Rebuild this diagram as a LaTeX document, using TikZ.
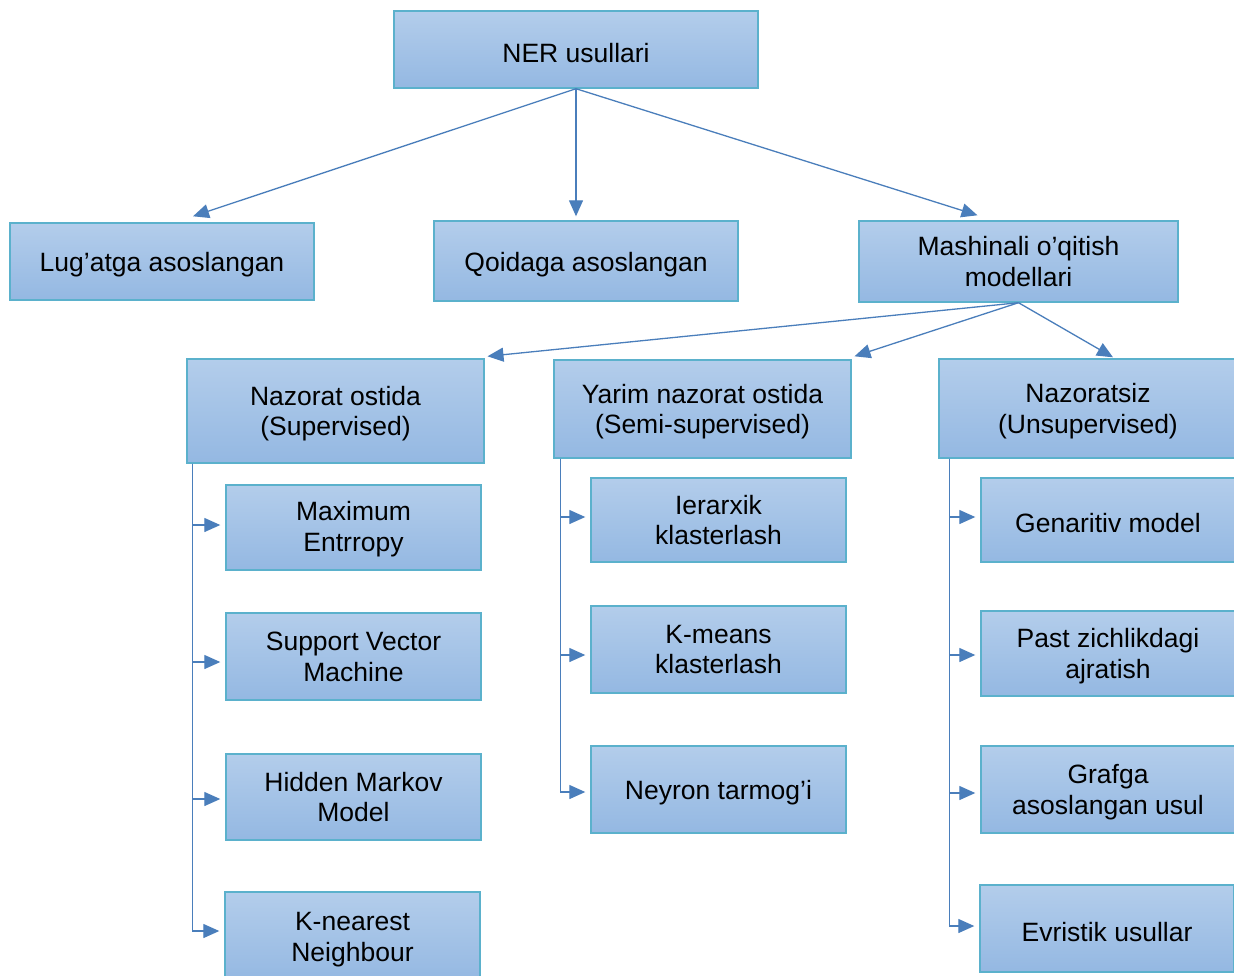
\documentclass[tikz,border=0pt]{standalone}
\usepackage{fontspec}
\setmainfont{Liberation Sans}
\usetikzlibrary{arrows.meta}
\definecolor{boxtop}{HTML}{B3CDEB}
\definecolor{boxbot}{HTML}{94B8E2}
\definecolor{boxline}{HTML}{5BB1CC}
\definecolor{arrcol}{HTML}{4A7EBB}
\begin{document}
\begin{tikzpicture}[x=1pt,y=-1pt,
  box/.style={draw=boxline,line width=1.4pt,top color=boxtop,bottom color=boxbot,
    inner sep=0pt,align=center,text=black,font=\fontsize{26.5}{30.5}\selectfont},
  one/.style={box,execute at begin node={\rule{0pt}{26pt}}},
  two/.style={box,text depth=2pt},
  twohi/.style={box,text depth=-1.5pt},
  arr/.style={draw=arrcol,line width=1.3pt,-{Triangle[length=16pt,width=14pt]}},
  sub/.style={arr,shorten >=5pt}]
\clip (0,0) rectangle (1234,975);
% level 0
\node[one,minimum width=364pt,minimum height=77pt] (ner) at (576,49.5) {NER usullari};
% level 1
\node[one,minimum width=304pt,minimum height=77pt] (lug) at (162,261.5) {Lug’atga asoslangan};
\node[one,minimum width=304pt,minimum height=80pt] (qoi) at (586,261) {Qoidaga asoslangan};
\node[twohi,minimum width=319pt,minimum height=81pt] (mash) at (1018.5,261.5) {Mashinali o’qitish\\modellari};
% level 2
\node[twohi,minimum width=297pt,minimum height=104pt] (sup) at (335.5,411) {Nazorat ostida\\(Supervised)};
\node[twohi,minimum width=297pt,minimum height=98pt] (semi) at (702.5,409) {Yarim nazorat ostida\\(Semi-supervised)};
\node[twohi,minimum width=298pt,minimum height=99pt] (unsup) at (1088,408.5) {Nazoratsiz\\(Unsupervised)};
% supervised children
\node[two,minimum width=255pt,minimum height=85pt] (me) at (353.5,527.5) {Maximum\\Entrropy};
\node[twohi,minimum width=255pt,minimum height=87pt] (svm) at (353.5,656.5) {Support Vector\\Machine};
\node[twohi,minimum width=255pt,minimum height=86pt] (hmm) at (353.5,797) {Hidden Markov\\Model};
\node[twohi,minimum width=255pt,minimum height=90pt] (knn) at (352.5,937) {K-nearest\\Neighbour};
% semi children
\node[twohi,minimum width=255pt,minimum height=84pt] (ier) at (718.5,520) {Ierarxik\\klasterlash};
\node[twohi,minimum width=255pt,minimum height=87pt] (km) at (718.5,649.5) {K-means\\klasterlash};
\node[one,minimum width=255pt,minimum height=87pt] (ney) at (718.5,789.5) {Neyron tarmog’i};
% unsupervised children
\node[one,minimum width=254pt,minimum height=84pt] (gen) at (1108,520) {Genaritiv model};
\node[twohi,minimum width=254pt,minimum height=85pt] (past) at (1108,653.5) {Past zichlikdagi\\ajratish};
\node[twohi,minimum width=254pt,minimum height=87pt] (graf) at (1108,789.5) {Grafga\\asoslangan usul};
\node[one,minimum width=254pt,minimum height=87pt] (evr) at (1107,928.5) {Evristik usullar};
% connectors level 0 -> 1
\draw[arr] (ner.south) -- ([xshift=31pt,yshift=6pt]lug.north);
\draw[arr] (ner.south) -- ([yshift=4pt]ner.south |- qoi.north);
\draw[arr] (ner.south) -- ([xshift=-41pt,yshift=5pt]mash.north);
% connectors level 1 -> 2
\draw[arr] (mash.south) -- ([xshift=152pt,yshift=2pt]sup.north);
\draw[arr] (mash.south) -- ([xshift=152pt,yshift=3pt]semi.north);
\draw[arr] (mash.south) -- ([xshift=25pt,yshift=1pt]unsup.north);
% supervised
\draw[sub] ([xshift=6pt]sup.south west) |- ([yshift=2.5pt]me.west);
\draw[sub] ([xshift=6pt]sup.south west) |- ([yshift=-5.5pt]svm.west);
\draw[sub] ([xshift=6pt]sup.south west) |- ([yshift=-2pt]hmm.west);
\draw[sub] ([xshift=6pt]sup.south west) |- ([yshift=6pt]knn.west);
% semi
\draw[sub] ([xshift=7pt]semi.south west) |- ([yshift=3pt]ier.west);
\draw[sub] ([xshift=7pt]semi.south west) |- ([yshift=-5.5pt]km.west);
\draw[sub] ([xshift=7pt]semi.south west) |- ([yshift=-2.5pt]ney.west);
% unsupervised
\draw[sub] ([xshift=11pt]unsup.south west) |- ([yshift=3pt]gen.west);
\draw[sub] ([xshift=11pt]unsup.south west) |- ([yshift=-1.5pt]past.west);
\draw[sub] ([xshift=11pt]unsup.south west) |- ([yshift=-3.5pt]graf.west);
\draw[sub] ([xshift=11pt]unsup.south west) |- ([yshift=2.5pt]evr.west);
\end{tikzpicture}
\end{document}
